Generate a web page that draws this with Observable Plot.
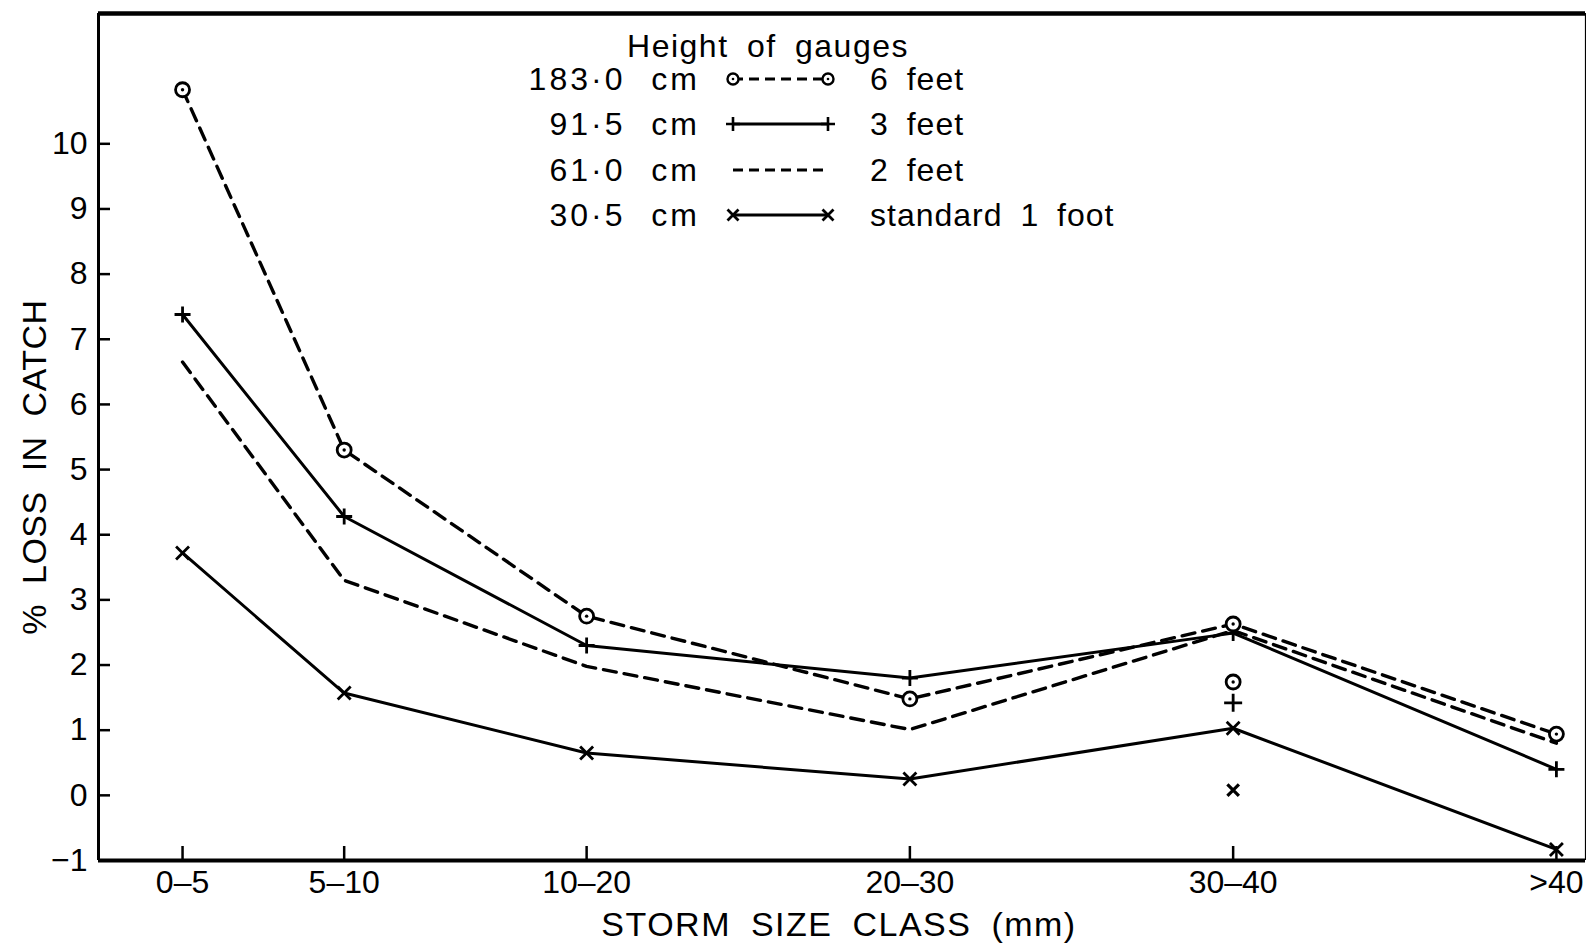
<!DOCTYPE html>
<html><head><meta charset="utf-8">
<script src="https://cdn.jsdelivr.net/npm/d3@7"></script>
<script src="https://cdn.jsdelivr.net/npm/@observablehq/plot@0.6"></script>
<style>
html,body{margin:0;padding:0;background:#fff;}
#chart svg{display:block;}
svg text{word-spacing:8px;}
</style></head><body><div id="chart"></div>
<script>
// ---- data ----
const classMid = [2.5, 7.5, 15, 25, 35, 45];
const classLabels = ["0–5", "5–10", "10–20", "20–30", "30–40", ">40"];
const yTicks = [-1, 0, 1, 2, 3, 4, 5, 6, 7, 8, 9, 10];
const loss6ft = [10.83, 5.30, 2.75, 1.48, 2.63, 0.94];
const loss3ft = [7.38, 4.28, 2.30, 1.80, 2.49, 0.40];
const loss2ft = [6.65, 3.30, 1.98, 1.01, 2.53, 0.80];
const loss1ft = [3.72, 1.57, 0.65, 0.25, 1.03, -0.83];
// isolated extra points at the 30-40 class
const extraClass = [35, 35, 35];
const extraValue = [1.74, 1.42, 0.08];
const extraSeries = ["6ft", "3ft", "1ft"];
const legendTitle = "Height of gauges";
const legendCm = ["183·0 cm", "91·5 cm", "61·0 cm", "30·5 cm"];
const legendFt = ["6 feet", "3 feet", "2 feet", "standard 1 foot"];
const legendKind = ["circle-dash", "plus-solid", "dash", "times-solid"];
const xTitle = "STORM SIZE CLASS (mm)";
const yTitle = "% LOSS IN CATCH";

const W = 1586, H = 944;
const mL = 98, mR = 1, mT = 13, mB = 84;
const plotW = W - mL - mR, plotH = H - mT - mB;
const xDom = [-0.1, 45.9], yDom = [-1, 12];

const toRows = (vals) => vals.map((v, i) => ({x: classMid[i], y: v}));
const d6 = toRows(loss6ft), d3ft = toRows(loss3ft), d2 = toRows(loss2ft), d1 = toRows(loss1ft);
const extras = extraValue.map((v, i) => ({x: extraClass[i], y: v, s: extraSeries[i]}));

const plusSym = {draw(ctx, size) { const a = Math.sqrt(size / Math.PI); ctx.moveTo(-a, 0); ctx.lineTo(a, 0); ctx.moveTo(0, -a); ctx.lineTo(0, a); }};
const timesSym = {draw(ctx, size) { const a = Math.sqrt(size / Math.PI) * 0.72; ctx.moveTo(-a, -a); ctx.lineTo(a, a); ctx.moveTo(-a, a); ctx.lineTo(a, -a); }};

const font = "'Liberation Sans', Arial, Helvetica, sans-serif";
const dash = "13,8";

const plot = Plot.plot({
  width: W, height: H,
  marginLeft: mL, marginRight: mR, marginTop: mT, marginBottom: mB,
  style: {fontFamily: font, fontSize: "32px", color: "#000", background: "#fff", overflow: "visible"},
  x: {domain: xDom, ticks: classMid, tickFormat: d => classLabels[classMid.indexOf(d)], tickSize: 0, tickPadding: 10, label: null},
  y: {domain: yDom, ticks: yTicks, tickSize: 0, tickPadding: 11, label: null},
  marks: [
    // frame
    Plot.ruleY([yDom[1]], {stroke: "#000", strokeWidth: 4.5}),
    Plot.ruleY([yDom[0]], {stroke: "#000", strokeWidth: 4}),
    Plot.ruleX([xDom[0]], {stroke: "#000", strokeWidth: 3}),
    Plot.ruleX([xDom[1]], {stroke: "#000", strokeWidth: 1.2}),
    // inward ticks
    Plot.tickY(yTicks, {y: d => d, insetRight: plotW - 12, stroke: "#000", strokeWidth: 2.5}),
    Plot.tickX(classMid, {x: d => d, insetTop: plotH - 14, stroke: "#000", strokeWidth: 2.5}),
    // lines
    Plot.line(d2, {x: "x", y: "y", stroke: "#000", strokeWidth: 3.4, strokeDasharray: dash}),
    Plot.line(d6, {x: "x", y: "y", stroke: "#000", strokeWidth: 3.4, strokeDasharray: dash}),
    Plot.line(d3ft, {x: "x", y: "y", stroke: "#000", strokeWidth: 3}),
    Plot.line(d1, {x: "x", y: "y", stroke: "#000", strokeWidth: 3}),
    // markers
    Plot.dot(d3ft, {x: "x", y: "y", symbol: plusSym, r: 8, stroke: "#000", strokeWidth: 2.8}),
    Plot.dot(d1, {x: "x", y: "y", symbol: timesSym, r: 9, stroke: "#000", strokeWidth: 2.8}),
    Plot.dot(d6, {x: "x", y: "y", r: 7, fill: "#fff", stroke: "#000", strokeWidth: 2.8}),
    Plot.dot(d6, {x: "x", y: "y", r: 1.7, fill: "#000"}),
    Plot.dot(extras.filter(d => d.s === "3ft"), {x: "x", y: "y", symbol: plusSym, r: 9, stroke: "#000", strokeWidth: 2.8}),
    Plot.dot(extras.filter(d => d.s === "1ft"), {x: "x", y: "y", symbol: timesSym, r: 8, stroke: "#000", strokeWidth: 3.2}),
    Plot.dot(extras.filter(d => d.s === "6ft"), {x: "x", y: "y", r: 7, fill: "#fff", stroke: "#000", strokeWidth: 2.8}),
    Plot.dot(extras.filter(d => d.s === "6ft"), {x: "x", y: "y", r: 1.7, fill: "#000"}),
    // axis titles
    Plot.text([xTitle], {frameAnchor: "bottom", dx: -3, dy: 65, text: d => d, fontSize: 34, textAnchor: "middle", lineAnchor: "middle", fill: "#000"}),
    Plot.text([yTitle], {frameAnchor: "left", dx: -63, dy: 30, rotate: -90, text: d => d, fontSize: 34, textAnchor: "middle", lineAnchor: "middle", fill: "#000"})
  ]
});
document.getElementById("chart").appendChild(plot);

// spacing of the title lettering
const svg = d3.select(plot.tagName.toLowerCase() === "svg" ? plot : plot.querySelector("svg"));
svg.selectAll("text").filter(function() { return this.textContent === xTitle; })
  .style("letter-spacing", "1.5px").style("word-spacing", "9px");
svg.selectAll("text").filter(function() { return this.textContent === yTitle; })
  .style("letter-spacing", "0.5px").style("word-spacing", "10px");

// ---- legend (drawn into the plot's svg) ----
const lg = svg.append("g").attr("font-family", font).attr("fill", "#000").attr("text-anchor", "start");
lg.append("text").attr("x", 768).attr("y", 57).attr("text-anchor", "middle")
  .attr("font-size", 32).attr("letter-spacing", 1.5).text(legendTitle);
const rowY = [79, 124, 170, 215];
const sx0 = 733, sx1 = 828;
legendCm.forEach((t, i) => {
  const cy = rowY[i];
  lg.append("text").attr("x", 700).attr("y", cy + 11).attr("text-anchor", "end")
    .attr("font-size", 32).attr("letter-spacing", 3).style("word-spacing", "14px").text(t);
  lg.append("text").attr("x", 870).attr("y", cy + 11).attr("text-anchor", "start")
    .attr("font-size", 32).attr("letter-spacing", 1).text(legendFt[i]);
  const k = legendKind[i];
  const line = lg.append("line").attr("x1", sx0).attr("x2", sx1).attr("y1", cy).attr("y2", cy)
    .attr("stroke", "#000").attr("stroke-width", 3);
  if (k === "circle-dash" || k === "dash") line.attr("stroke-dasharray", "10,6");
  if (k === "circle-dash") {
    [sx0, sx1].forEach(x => {
      lg.append("circle").attr("cx", x).attr("cy", cy).attr("r", 5.5).attr("fill", "#fff").attr("stroke", "#000").attr("stroke-width", 2.4);
      lg.append("circle").attr("cx", x).attr("cy", cy).attr("r", 1.3).attr("fill", "#000");
    });
  } else if (k === "plus-solid") {
    [sx0, sx1].forEach(x => {
      lg.append("path").attr("d", `M${x - 7},${cy}H${x + 7}M${x},${cy - 7}V${cy + 7}`).attr("stroke", "#000").attr("stroke-width", 2.6).attr("fill", "none");
    });
  } else if (k === "times-solid") {
    [sx0, sx1].forEach(x => {
      lg.append("path").attr("d", `M${x - 5.5},${cy - 5.5}L${x + 5.5},${cy + 5.5}M${x - 5.5},${cy + 5.5}L${x + 5.5},${cy - 5.5}`).attr("stroke", "#000").attr("stroke-width", 2.8).attr("fill", "none");
    });
  }
});
</script></body></html>
